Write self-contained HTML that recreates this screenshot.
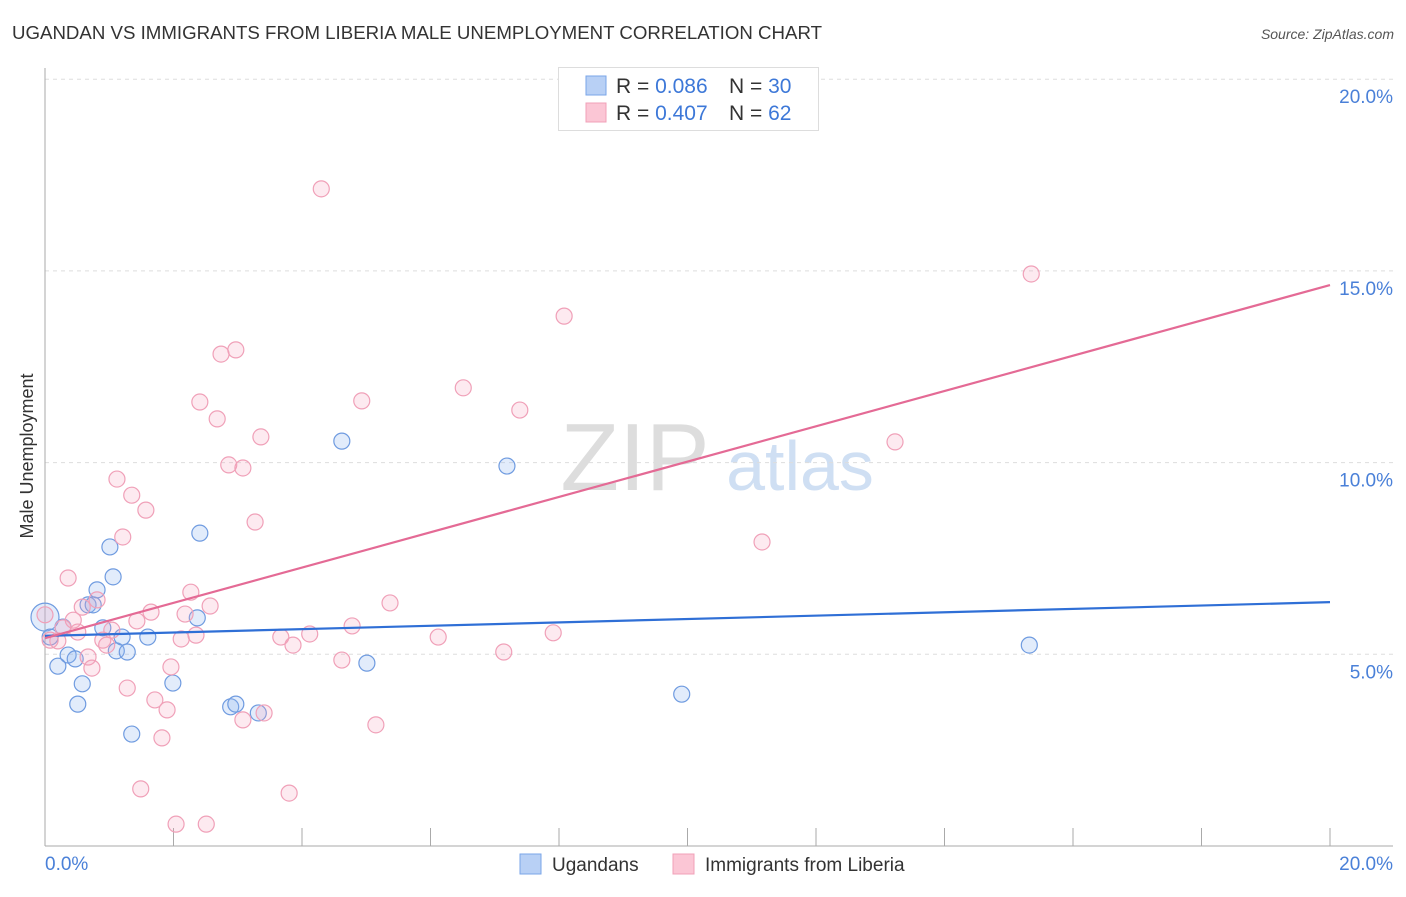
<!DOCTYPE html>
<html><head><meta charset="utf-8"><style>
body{margin:0;background:#fff;font-family:"Liberation Sans",sans-serif;}
svg text{font-family:"Liberation Sans",sans-serif;}
</style></head><body>
<svg id="chart" width="1406" height="892">
<text x="12" y="39" font-size="18" fill="#333" textLength="810" lengthAdjust="spacingAndGlyphs">UGANDAN VS IMMIGRANTS FROM LIBERIA MALE UNEMPLOYMENT CORRELATION CHART</text>
<text x="1394" y="39" font-size="14" fill="#555" font-style="italic" text-anchor="end">Source: ZipAtlas.com</text>
<text x="635" y="490" font-size="96" fill="#ddd" font-family="Liberation Serif" text-anchor="middle">ZIP</text>
<text x="800" y="490" font-size="70" fill="#cfdff3" text-anchor="middle">atlas</text>
<g id="grid"></g><g id="axes"></g><g id="pts"></g><g id="lines"></g>
<text transform="translate(33,456) rotate(-90)" font-size="18" fill="#333" text-anchor="middle">Male Unemployment</text>
<g>
<rect x="558.5" y="67.5" width="260" height="63" fill="#fff" stroke="#ddd"/>
<rect x="586" y="76" width="20" height="19" fill="#b8d0f5" stroke="#7aa6e8"/>
<rect x="586" y="103" width="20" height="19" fill="#fbc6d5" stroke="#f0a0b8"/>
<text x="616" y="93" font-size="21" fill="#333">R = <tspan fill="#3d78d8">0.086</tspan></text>
<text x="729" y="93" font-size="21" fill="#333">N = <tspan fill="#3d78d8">30</tspan></text>
<text x="616" y="120" font-size="21" fill="#333">R = <tspan fill="#3d78d8">0.407</tspan></text>
<text x="729" y="120" font-size="21" fill="#333">N = <tspan fill="#3d78d8">62</tspan></text>
</g>
<g>
<rect x="520" y="854" width="21" height="20" fill="#b8d0f5" stroke="#7aa6e8"/>
<text x="552" y="871" font-size="19" fill="#333">Ugandans</text>
<rect x="673" y="854" width="21" height="20" fill="#fbc6d5" stroke="#f0a0b8"/>
<text x="705" y="871" font-size="19" fill="#333">Immigrants from Liberia</text>
</g>
</svg>
<script>
const blueX=[0,0.08,0.2,0.28,0.36,0.47,0.51,0.58,0.67,0.75,0.81,0.9,1.01,1.06,1.11,1.2,1.28,1.35,1.6,1.99,2.37,2.41,2.89,2.97,3.32,4.62,5.01,7.19,9.91,15.32];
const blueY=[5.97,5.45,4.69,5.71,4.98,4.88,3.7,4.23,6.29,6.29,6.68,5.69,7.8,7.02,5.09,5.45,5.06,2.92,5.45,4.25,5.95,8.16,3.63,3.7,3.47,10.56,4.77,9.91,3.96,5.24];
const pinkX=[0,0.08,0.2,0.28,0.36,0.44,0.51,0.58,0.67,0.73,0.81,0.9,0.96,1.04,1.12,1.21,1.28,1.35,1.43,1.49,1.57,1.65,1.71,1.82,1.9,1.96,2.04,2.12,2.18,2.27,2.35,2.41,2.51,2.57,2.68,2.74,2.86,2.97,3.08,3.08,3.27,3.36,3.41,3.67,3.8,3.86,4.12,4.3,4.62,4.78,4.93,5.15,5.37,6.12,6.51,7.14,7.39,7.91,8.08,11.16,13.23,15.35];
const pinkY=[6.03,5.37,5.35,5.69,6.99,5.89,5.58,6.23,4.93,4.64,6.42,5.37,5.24,5.63,9.57,8.06,4.12,9.15,5.87,1.49,8.76,6.1,3.81,2.82,3.55,4.67,0.57,5.4,6.05,6.62,5.5,11.58,0.57,6.26,11.14,12.83,9.94,12.94,3.29,9.86,8.45,10.67,3.47,5.45,1.38,5.24,5.53,17.14,4.85,5.74,11.61,3.16,6.34,5.45,11.95,5.06,11.37,5.56,13.82,7.93,10.54,14.92];
const blueLine=[5.48,6.36];
const pinkLine=[5.42,14.63];
const yTicks=[5,10,15,20];
const xTicks=[0,2,4,6,8,10,12,14,16,18,20];
const sx=v=>45+v*64.25, sy=v=>846-v*38.34;
const NS="http://www.w3.org/2000/svg";
function mk(t,a,p){const e=document.createElementNS(NS,t);for(const k in a)e.setAttribute(k,a[k]);document.getElementById(p).appendChild(e);return e;}
yTicks.forEach(t=>{
 const l=mk('line',{x1:45,x2:1393,y1:sy(t),y2:sy(t),stroke:'#ddd','stroke-dasharray':'4,4'},'grid');
 
 
 const tx=mk('text',{x:1393,y:sy(t)+24,'font-size':19,fill:'#4a80d8','text-anchor':'end'},'axes');
 tx.textContent=t.toFixed(1)+'%';
 
 
});
mk('line',{x1:45,x2:45,y1:68,y2:846,stroke:'#aaa'},'axes');
mk('line',{x1:45,x2:1393,y1:846,y2:846,stroke:'#aaa'},'axes');
xTicks.forEach(t=>{const l=mk('line',{x1:sx(t),x2:sx(t),y1:828,y2:846,stroke:'#aaa'},'axes');
 
 });
[[0,'0.0%',45,'start'],[20,'20.0%',1393,'end']].forEach(d=>{const tx=mk('text',{x:d[2],y:870,'font-size':19,fill:'#4a80d8','text-anchor':d[3]},'axes');tx.textContent=d[1];
 
 });
blueX.forEach((x,i)=>{const c=mk('circle',{cx:sx(x),cy:sy(blueY[i]),r:i==0?14:8,fill:'rgba(140,180,240,0.25)',stroke:'#6f9be0','stroke-width':1.2},'pts');
 
 });
pinkX.forEach((x,i)=>{const c=mk('circle',{cx:sx(x),cy:sy(pinkY[i]),r:8,fill:'rgba(245,160,185,0.22)',stroke:'#f0a0b8','stroke-width':1.2},'pts');
 
 });
const bl=mk('line',{x1:sx(0),x2:sx(20),y1:sy(blueLine[0]),y2:sy(blueLine[1]),stroke:'#2f6fd6','stroke-width':2.2},'lines');


const pl=mk('line',{x1:sx(0),x2:sx(20),y1:sy(pinkLine[0]),y2:sy(pinkLine[1]),stroke:'#e46a95','stroke-width':2.2},'lines');


</script>
</body></html>
